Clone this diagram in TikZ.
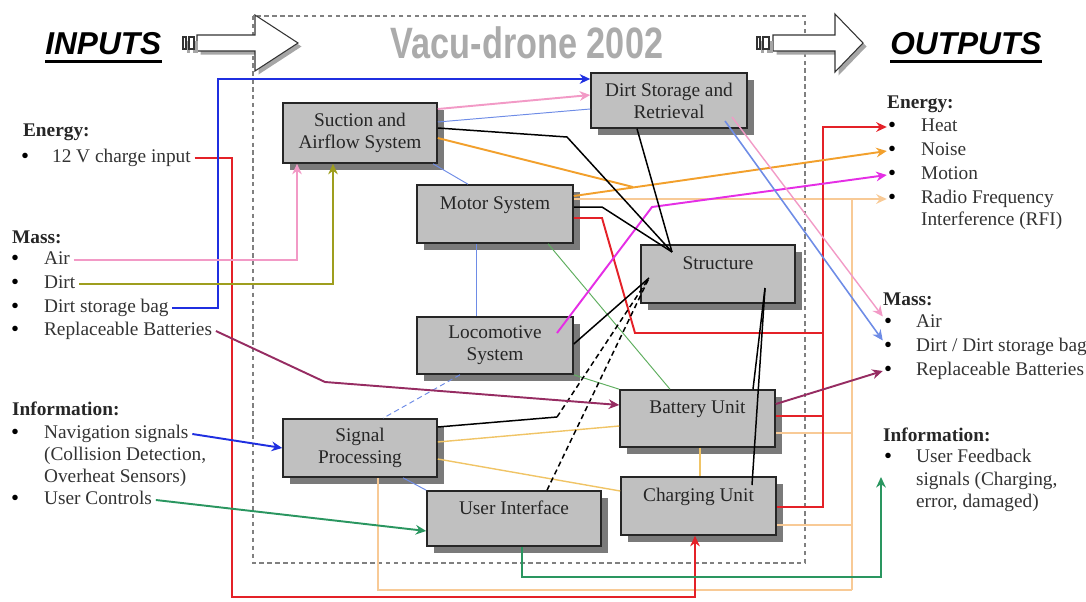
\documentclass[tikz,border=0pt]{standalone}
\usepackage{fontspec}
\setmainfont{Liberation Serif}
\setsansfont{Liberation Sans}
\usepackage{tikz}
\usetikzlibrary{arrows.meta,positioning,shadows}
\definecolor{boxgray}{HTML}{C0C0C0}
\definecolor{shadowgray}{HTML}{7A7A7A}
\definecolor{cred}{HTML}{E42128}
\definecolor{cblue}{HTML}{1F2FE0}
\definecolor{lblue}{HTML}{6E8CE6}
\definecolor{cpink}{HTML}{F29AC6}
\definecolor{colive}{HTML}{9E9E1E}
\definecolor{cpurple}{HTML}{962C62}
\definecolor{cgreen}{HTML}{2A9660}
\definecolor{tgreen}{HTML}{5FAE5F}
\definecolor{corange}{HTML}{F2A02C}
\definecolor{cpeach}{HTML}{F8CA96}
\definecolor{cyellow}{HTML}{F0C466}
\definecolor{cmagenta}{HTML}{E52EE5}

\begin{document}
\begin{tikzpicture}[
    x=0.02cm, y=-0.02cm,
    >={Stealth[length=6pt,width=5.5pt]},
    blk/.style={rectangle, draw=black!85, line width=0.9pt, fill=boxgray, align=center, text=black!85,
        font=\fontsize{11}{12.5}\selectfont, inner sep=2pt,
        drop shadow={shadow xshift=0.14cm, shadow yshift=-0.14cm, fill=shadowgray, opacity=1}},
    head/.style={anchor=west, inner sep=1pt, font=\fontsize{11}{13}\selectfont\bfseries, text=black!85},
    bul/.style={inner sep=0.5pt, font=\fontsize{13}{13}\selectfont, text height=6pt, text depth=0pt},
    itm/.style={anchor=west, inner sep=2pt, font=\fontsize{11}{13}\selectfont, text=black!80, text height=8pt, text depth=2.5pt},
    big/.style={inner sep=0pt, font=\sffamily\bfseries\itshape\fontsize{18}{18}\selectfont},
    wire/.style={line width=1.1pt, draw=#1},
    fine/.style={line width=0.55pt, draw=#1},
    bigarrow/.style={draw=black!80, line width=0.6pt, fill=white,
        drop shadow={shadow xshift=0.07cm, shadow yshift=-0.07cm, fill=gray!70, opacity=1}},
]
\useasboundingbox (0,0) rectangle (1086,602);

% System boundary and title
\draw[gray, line width=0.6pt, dash pattern=on 2.5pt off 2pt] (253,16) rectangle (805,563);
\node[font=\sffamily\bfseries\fontsize{25}{25}\selectfont, text=black!33] (title) at (527,43) {\scalebox{0.78}[1]{Vacu-drone 2002}};

% Headings and block arrows
\node[big, anchor=west] (inp) at (45,44) {INPUTS};
\draw[line width=1.8pt] ([yshift=-3.5pt]inp.south west) -- ([yshift=-3.5pt]inp.south east);
\node[big, anchor=west] (outp) at (890,44) {OUTPUTS};
\draw[line width=1.8pt] ([yshift=-3.5pt]outp.south west) -- ([yshift=-3.5pt]outp.south east);

\draw[bigarrow] (197,35) -- (255,35) -- (255,15) -- (298,43) -- (255,71) -- (255,51) -- (197,51) -- cycle;
\draw[bigarrow] (183,37) rectangle (186,49);
\draw[bigarrow] (189,37) rectangle (194,49);
\draw[bigarrow] (773,35) -- (835,35) -- (835,14) -- (863,43) -- (835,72) -- (835,51) -- (773,51) -- cycle;
\draw[bigarrow] (757,37) rectangle (760,49);
\draw[bigarrow] (763,37) rectangle (769,49);

% Subsystems
\node[blk, minimum width=3.08cm, minimum height=1.2cm] (suct) at (360,133) {Suction and\\Airflow System};
\node[blk, minimum width=3.12cm, minimum height=1.1cm] (dirt) at (669,100.5) {Dirt Storage and\\Retrieval};
\node[blk, minimum width=3.12cm, minimum height=1.16cm] (motor) at (495,214) {Motor System\\\mbox{}};
\node[blk, minimum width=3.08cm, minimum height=1.16cm] (struct) at (718,274) {Structure\\\mbox{}};
\node[blk, minimum width=3.12cm, minimum height=1.14cm] (loco) at (495,345.5) {Locomotive\\System};
\node[blk, minimum width=3.1cm, minimum height=1.14cm] (batt) at (697.5,418.5) {Battery Unit\\\mbox{}};
\node[blk, minimum width=3.08cm, minimum height=1.16cm] (sig) at (360,448) {Signal\\Processing};
\node[blk, minimum width=3.1cm, minimum height=1.16cm] (charge) at (698.5,506) {Charging Unit\\\mbox{}};
\node[blk, minimum width=3.48cm, minimum height=1.1cm] (ui) at (514,518.5) {User Interface\\\mbox{}};

% Inputs
\node[head] (ein) at (21,132) {Energy:};
\node[bul] (b1) at (25,158) {\textbullet};
\node[itm, right=0.36cm of b1] (chg) {12 V charge input};
\node[head] (min) at (10,237) {Mass:};
\node[bul] (b2) at (15,260) {\textbullet};
\node[itm, right=0.4cm of b2] (air) {Air};
\node[bul] (b3) at (15,284) {\textbullet};
\node[itm, right=0.4cm of b3] (dirtin) {Dirt};
\node[bul] (b4) at (15,308) {\textbullet};
\node[itm, right=0.4cm of b4] (bag) {Dirt storage bag};
\node[bul] (b5) at (15,331) {\textbullet};
\node[itm, right=0.4cm of b5] (batin) {Replaceable Batteries};
\node[head] (iin) at (10,409) {Information:};
\node[bul] (b6) at (15,434) {\textbullet};
\node[itm, right=0.4cm of b6] (nav) {Navigation signals};
\node[itm] (nav2) at (nav.west |- 0,456) {(Collision Detection,};
\node[itm] (nav3) at (nav.west |- 0,478) {Overheat Sensors)};
\node[bul] (b7) at (15,500) {\textbullet};
\node[itm, right=0.4cm of b7] (uc) {User Controls};

% Outputs
\node[head] (eout) at (885,104) {Energy:};
\node[bul] (bheat) at (892,127) {\textbullet};
\node[itm, right=0.4cm of bheat] (heat) {Heat};
\node[bul] (bnoise) at (892,151) {\textbullet};
\node[itm, right=0.4cm of bnoise] (noise) {Noise};
\node[bul] (bmotion) at (892,175) {\textbullet};
\node[itm, right=0.4cm of bmotion] (motion) {Motion};
\node[bul] (brfi) at (892,199) {\textbullet};
\node[itm, right=0.4cm of brfi] (rfi) {Radio Frequency};
\node[itm] (rfi2) at (rfi.west |- 0,221) {Interference (RFI)};
\node[head] (mout) at (881,299) {Mass:};
\node[bul] (bair) at (888,323) {\textbullet};
\node[itm, right=0.38cm of bair] (airout) {Air};
\node[bul] (bdbag) at (888,347) {\textbullet};
\node[itm, right=0.38cm of bdbag] (dbag) {Dirt / Dirt storage bag};
\node[bul] (bbat) at (888,371) {\textbullet};
\node[itm, right=0.38cm of bbat] (batout) {Replaceable Batteries};
\node[head] (iout) at (881,435) {Information:};
\node[bul] (bfb) at (888,458) {\textbullet};
\node[itm, right=0.38cm of bfb] (fb) {User Feedback};
\node[itm] (fb2) at (fb.west |- 0,481) {signals (Charging,};
\node[itm] (fb3) at (fb.west |- 0,503) {error, damaged)};

% Junctions
\coordinate (sA) at (672,252);
\coordinate (sB) at (649,278);
\coordinate (sC) at (765,288);
\coordinate (cC) at (752,485);
\coordinate (lm) at (557,333);
\coordinate (dA) at (732,117);
\coordinate (dB) at (725,121);
\coordinate (fbtip) at (881,477);
\coordinate (pbus) at (852,590);
\coordinate (rbus) at (823,333);

% Thin links
\draw[fine=lblue] (suct.east |- 0,122) -- (dirt.west |- 0,109);
\draw[fine=lblue] (433,0 |- suct.south) -- (468,0 |- motor.north);
\draw[fine=lblue] (476,0 |- motor.south) -- (476,0 |- loco.north);
\draw[fine=lblue, densely dashed] (460,0 |- loco.south) -- (383,0 |- sig.north);
\draw[fine=lblue] (403,0 |- sig.south) -- (ui.north west);
\draw[fine=tgreen] (548,0 |- motor.south) -- (670,0 |- batt.north);
\draw[fine=tgreen] (loco.south east) -- (batt.north west);
\draw[fine=cyellow, line width=0.8pt] (sig.east |- 0,442) -- (batt.west |- 0,426);
\draw[fine=cyellow, line width=0.8pt] (sig.east |- 0,459) -- (charge.west |- 0,491);
\draw[fine=cyellow, line width=0.8pt] (700,0 |- batt.south) -- (700,0 |- charge.north);

% RFI bus
\draw[fine=cpeach, line width=0.9pt, ->] (motor.east |- brfi.west) -- (brfi.west);
\draw[fine=cpeach, line width=0.9pt] (pbus |- brfi.west) -- (pbus);
\draw[fine=cpeach, line width=0.9pt] (batt.east |- 0,433) -- (pbus |- 0,433);
\draw[fine=cpeach, line width=0.9pt] (charge.east |- 0,525) -- (pbus |- 0,525);
\draw[fine=cpeach, line width=0.9pt] (378,0 |- sig.south) |- (pbus);

% Heat bus
\draw[wire=cred] (motor.east |- 0,218) -- (602,218) -- (635,333) -- (rbus);
\draw[wire=cred] (batt.east |- 0,416) -- (rbus |- 0,416);
\draw[wire=cred, ->] (charge.east |- 0,507) -| (rbus |- bheat.west) -- (bheat.west);

% Noise and motion
\draw[wire=corange, ->] (motor.east |- 0,196) -- (bnoise.west);
\draw[wire=corange] (suct.east |- 0,138) -- (633,187);
\draw[wire=cmagenta, ->] (lm) -- (652,207) -- (bmotion.west);

% Structure links
\draw[wire=black, line width=0.85pt] (suct.east |- 0,128) -- (567,137) -- (sA);
\draw[wire=black, line width=0.85pt] (motor.east |- 0,207) -- (602,207) -- (sA);
\draw[wire=black, line width=0.85pt] (637,0 |- dirt.south) -- (sA);
\draw[wire=black, line width=0.85pt] (loco.east |- 0,344) -- (sB);
\draw[wire=black, line width=0.85pt] (sig.east |- 0,427) -- (557,417);
\draw[wire=black, line width=0.85pt, densely dashed] (557,417) -- (sB);
\draw[wire=black, line width=0.85pt, densely dashed] (547,0 |- ui.north) -- (sB);
\draw[wire=black, line width=0.85pt] (sC) -- (753,0 |- batt.north);
\draw[wire=black, line width=0.85pt] (sC) -- (cC);

% Input arrows
\draw[wire=cred, ->] (chg.east) -| (232,597) -| (695,0 |- charge.south);
\draw[wire=cblue, ->] (bag.east) -| (218,79) -- (dirt.west |- 0,79);
\draw[wire=cpink, ->] (air.east) -| (297,0 |- suct.south);
\draw[wire=colive, ->] (dirtin.east) -| (333,0 |- suct.south);
\draw[wire=cpurple, ->] (batin.east) -- (325,382) -- (batt.west |- 0,405);
\draw[wire=cblue, ->] (nav.east) -- (sig.west |- 0,448);
\draw[wire=cgreen, ->] (uc.east) -- (ui.west |- 0,531);
\draw[wire=cpink, ->] (suct.east |- 0,109) -- (dirt.west |- 0,95);

% Output arrows
\draw[wire=cpink, line width=0.8pt, ->] (dA) -- (bair.north west);
\draw[wire=lblue, line width=0.9pt, ->] (dB) -- (bdbag.north west);
\draw[wire=cpurple, ->] (batt.east |- 0,404) -- (bbat.west);
\draw[wire=cgreen, ->] (522,0 |- ui.south) -- (522,577) -| (fbtip);

\end{tikzpicture}
\end{document}
